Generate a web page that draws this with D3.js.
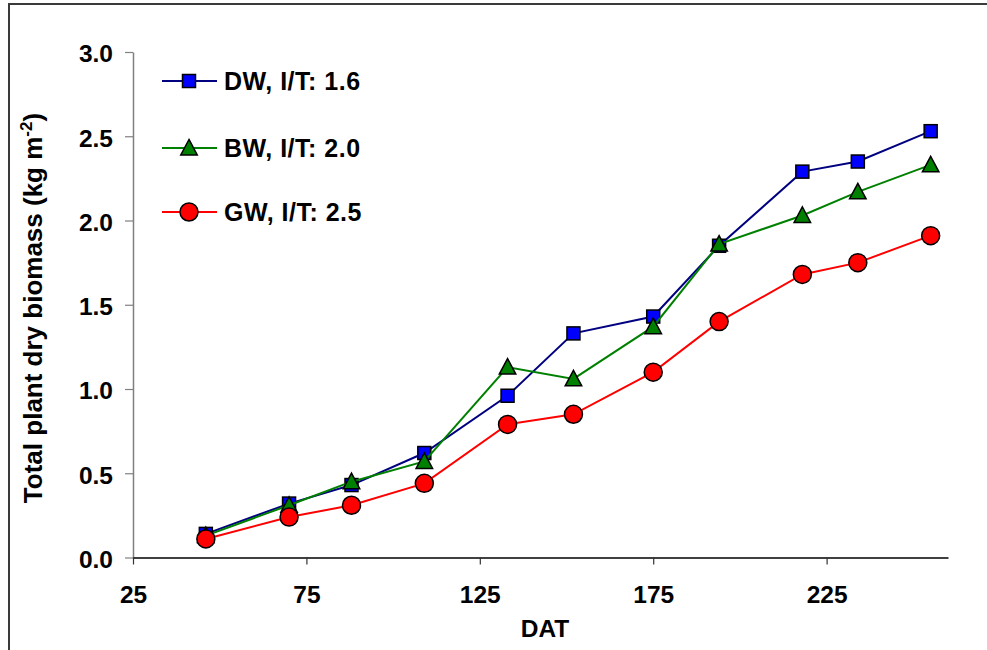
<!DOCTYPE html>
<html>
<head>
<meta charset="utf-8">
<script src="https://cdn.jsdelivr.net/npm/d3@7/dist/d3.min.js"></script>
<style>
  html, body { margin: 0; padding: 0; background: #fff; }
  svg { display: block; font-family: "Liberation Sans", Arial, Helvetica, sans-serif; }
</style>
</head>
<body>
<svg id="chart" width="987" height="650"></svg>
<script>
// ---- data ----
const DAT = [46, 70, 88, 109, 133, 152, 175, 194, 218, 234, 255];
const DW  = [0.14, 0.32, 0.43, 0.62, 0.96, 1.33, 1.43, 1.85, 2.29, 2.35, 2.53];
const BW  = [0.13, 0.31, 0.45, 0.57, 1.13, 1.06, 1.37, 1.86, 2.03, 2.17, 2.33];
const GW  = [0.11, 0.24, 0.31, 0.44, 0.79, 0.85, 1.10, 1.40, 1.68, 1.75, 1.91];
const seriesNames = ["DW, I/T: 1.6", "BW, I/T: 2.0", "GW, I/T: 2.5"];
const xTicks = [25, 75, 125, 175, 225];
const yTicks = [0, 0.5, 1.0, 1.5, 2.0, 2.5, 3.0];

const series = [
  {name: seriesNames[0], values: DW, line: "#000080", fill: "#0000ff", shape: "square"},
  {name: seriesNames[1], values: BW, line: "#008000", fill: "#008000", shape: "triangle"},
  {name: seriesNames[2], values: GW, line: "#ff0000", fill: "#ff0000", shape: "circle"}
];

const svg = d3.select("#chart");

// outer frame
svg.append("rect").attr("x", 9).attr("y", 4).attr("width", 1000).attr("height", 700)
  .attr("fill", "none").attr("stroke", "#3a3a3a").attr("stroke-width", 2);

const x = d3.scaleLinear().domain([25, 260]).range([133, 948]);
const y = d3.scaleLinear().domain([0, 3]).range([557.5, 52]);

// y axis
const gy = svg.append("g").attr("transform", "translate(133,0)")
  .call(d3.axisLeft(y).tickValues(yTicks).tickFormat(d3.format(".1f")).tickSize(8).tickPadding(12).tickSizeOuter(0));
gy.select(".domain").attr("stroke", "#808080").attr("stroke-width", 1.5);
gy.selectAll(".tick line").attr("stroke", "#808080").attr("stroke-width", 1.2);
gy.selectAll(".tick text").attr("font-size", 24.5).attr("font-weight", "bold")
  .attr("fill", "#000").attr("dy", "0.4em").style("font-family", "'Liberation Sans', Arial, sans-serif");

// x axis
const gx = svg.append("g").attr("transform", "translate(0,557.5)")
  .call(d3.axisBottom(x).tickValues(xTicks).tickFormat(d3.format("d")).tickSize(7).tickPadding(21).tickSizeOuter(0));
gx.select(".domain").attr("stroke", "#000").attr("stroke-width", 1.5);
gx.selectAll(".tick line").attr("stroke", "#333").attr("stroke-width", 1.2);
gx.selectAll(".tick text").attr("font-size", 24.5).attr("font-weight", "bold")
  .attr("fill", "#000").style("font-family", "'Liberation Sans', Arial, sans-serif");

// axis titles
svg.append("text").attr("x", 545).attr("y", 637).attr("text-anchor", "middle")
  .attr("font-size", 24.5).attr("font-weight", "bold").text("DAT");

const yt = svg.append("text").attr("transform", "translate(42,308) rotate(-90)")
  .attr("text-anchor", "middle").attr("font-size", 26).attr("font-weight", "bold");
yt.append("tspan").text("Total plant dry biomass (kg m");
yt.append("tspan").attr("font-size", 17).attr("dy", -10).text("-2");
yt.append("tspan").attr("dy", 10).text(")");

// marker drawer
function drawMarker(g, shape, cx, cy, fill) {
  if (shape === "square") {
    g.append("rect").attr("x", cx - 6.5).attr("y", cy - 6.5).attr("width", 13).attr("height", 13)
      .attr("fill", fill).attr("stroke", "#000").attr("stroke-width", 1.5);
  } else if (shape === "triangle") {
    const h = 15.5, w = 16.5;
    g.append("path").attr("d", `M${cx},${cy - h * 0.55}L${cx + w / 2},${cy + h * 0.45}L${cx - w / 2},${cy + h * 0.45}Z`)
      .attr("fill", fill).attr("stroke", "#000").attr("stroke-width", 1.5).attr("stroke-linejoin", "miter");
  } else {
    g.append("circle").attr("cx", cx).attr("cy", cy).attr("r", 9)
      .attr("fill", fill).attr("stroke", "#000").attr("stroke-width", 1.5);
  }
}

const line = d3.line().x(d => x(d[0])).y(d => y(d[1]));

series.forEach(s => {
  const g = svg.append("g");
  const pts = DAT.map((d, i) => [d, s.values[i]]);
  g.append("path").datum(pts).attr("d", line).attr("fill", "none")
    .attr("stroke", s.line).attr("stroke-width", 2);
  pts.forEach(p => drawMarker(g, s.shape, x(p[0]), y(p[1]), s.fill));
});

// legend
const legRows = [81, 148, 212];
series.forEach((s, i) => {
  const g = svg.append("g");
  const cy = legRows[i];
  g.append("line").attr("x1", 162).attr("x2", 217).attr("y1", cy).attr("y2", cy)
    .attr("stroke", s.line).attr("stroke-width", 2);
  drawMarker(g, s.shape, 189, cy, s.fill);
  g.append("text").attr("x", 224).attr("y", cy + 8.5).attr("font-size", 25)
    .attr("font-weight", "bold").attr("letter-spacing", 0.5).text(s.name);
});
</script>
</body>
</html>
